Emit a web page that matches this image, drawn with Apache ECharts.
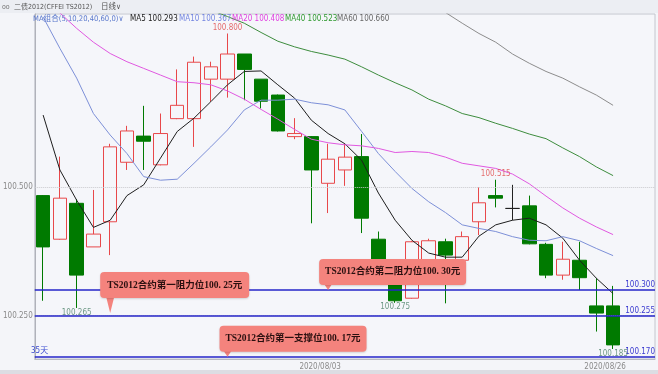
<!DOCTYPE html>
<html><head><meta charset="utf-8">
<style>html,body{margin:0;padding:0;background:#f4f5f9;}#c{width:658px;height:374px;}</style>
<script src="https://cdn.jsdelivr.net/npm/echarts@6.0.0/dist/echarts.min.js"></script>
</head><body><div id="c"></div>
<script>
const dates = ['2020/07/09','2020/07/10','2020/07/13','2020/07/14','2020/07/15','2020/07/16','2020/07/17','2020/07/20','2020/07/21','2020/07/22','2020/07/23','2020/07/24','2020/07/27','2020/07/28','2020/07/29','2020/07/30','2020/07/31','2020/08/03','2020/08/04','2020/08/05','2020/08/06','2020/08/07','2020/08/10','2020/08/11','2020/08/12','2020/08/13','2020/08/14','2020/08/17','2020/08/18','2020/08/19','2020/08/20','2020/08/21','2020/08/24','2020/08/25','2020/08/26'];
const shownDates = ['2020/08/03','2020/08/26'];
// [open, close, low, high]
const candles = [
[100.484,100.384,100.279,100.485],[100.399,100.479,100.398,100.560],[100.469,100.329,100.265,100.477],[100.384,100.409,100.384,100.495],
[100.433,100.579,100.368,100.585],[100.549,100.610,100.534,100.620],[100.600,100.590,100.534,100.659],[100.544,100.605,100.543,100.644],
[100.634,100.660,100.633,100.730],[100.634,100.744,100.579,100.755],[100.711,100.735,100.667,100.745],[100.711,100.760,100.675,100.800],
[100.760,100.730,100.670,100.760],[100.711,100.668,100.654,100.711],[100.680,100.610,100.609,100.681],[100.599,100.605,100.594,100.635],
[100.599,100.534,100.430,100.600],[100.508,100.555,100.450,100.585],[100.534,100.559,100.503,100.585],[100.560,100.440,100.411,100.604],
[100.399,100.335,100.330,100.414],[100.330,100.279,100.275,100.335],[100.284,100.394,100.283,100.396],[100.330,100.396,100.330,100.400],
[100.394,100.368,100.274,100.400],[100.358,100.404,100.357,100.414],[100.433,100.470,100.407,100.500],[100.484,100.479,100.461,100.515],
[100.459,100.459,100.436,100.505],[100.464,100.390,100.389,100.484],[100.389,100.329,100.323,100.392],[100.329,100.360,100.320,100.394],
[100.358,100.324,100.300,100.394],[100.269,100.255,100.219,100.323],[100.269,100.193,100.185,100.308]];
const ma5 = [100.641,100.534,100.475,100.422,100.436,100.484,100.505,100.557,100.609,100.635,100.667,100.700,100.726,100.727,100.700,100.674,100.631,100.605,100.585,100.553,100.489,100.436,100.397,100.372,100.364,100.364,100.405,100.427,100.436,100.440,100.427,100.401,100.358,100.323,100.293];
const ma10 = [100.832,100.771,100.713,100.644,100.602,100.566,100.521,100.514,100.516,100.547,100.579,100.612,100.651,100.670,100.670,100.672,100.665,100.661,100.651,100.609,100.566,100.531,100.498,100.472,100.451,100.427,100.420,100.414,100.404,100.397,100.396,100.404,100.396,100.381,100.367];
const ma20 = [100.869,100.840,100.810,100.783,100.761,100.745,100.732,100.719,100.706,100.704,100.700,100.688,100.672,100.652,100.633,100.613,100.594,100.587,100.583,100.581,100.576,100.568,100.570,100.568,100.559,100.547,100.542,100.537,100.526,100.507,100.483,100.460,100.440,100.423,100.408];
const ma40 = [null,null,null,null,null,null,null,null,null,null,100.846,100.833,100.820,100.802,100.785,100.774,100.765,100.758,100.750,100.735,100.719,100.704,100.690,100.672,100.659,100.644,100.636,100.625,100.615,100.604,100.595,100.577,100.560,100.540,100.523];
const ma60 = [null,null,null,null,null,null,null,null,null,null,null,null,null,null,null,null,null,null,null,null,null,null,null,100.862,100.841,100.820,100.800,100.783,100.760,100.742,100.726,100.713,100.696,100.680,100.660];
const levels = [100.300, 100.255, 100.170];
const yTicks = [100.250, 100.500];
const highLabels = [[11,100.800],[27,100.515]];
const lowLabels = [[2,100.265],[21,100.275],[34,100.185]];
const notes = [
  {text:'TS2012合约第一阻力位100. 25元', idx:4, value:100.255},
  {text:'TS2012合约第二阻力位100. 30元', idx:17, value:100.300},
  {text:'TS2012合约第一支撑位100. 17元', idx:11, value:100.170}
];

const chart = echarts.init(document.getElementById('c'), null, {renderer:'canvas'});
const FONT = '"DejaVu Sans Condensed","Liberation Sans","Noto Sans CJK SC",sans-serif';
const cats = dates.concat(['','']);
const upColor = '#e8484a', downColor = '#007a00';
const lineS = (name, data, color) => ({name, type:'line', data, symbol:'none', smooth:false, z:3,
  lineStyle:{color, width:1}, itemStyle:{color}, connectNulls:false, silent:true});

const legendItems = [
  {t:'MA组合(5,10,20,40,60,0)∨', x:33, c:'#5a78cc'},
  {t:'MA5 100.293', x:130, c:'#222'},
  {t:'MA10 100.367', x:179, c:'#7385e0'},
  {t:'MA20 100.408', x:232, c:'#e040e0'},
  {t:'MA40 100.523', x:285, c:'#2f9a2f'},
  {t:'MA60 100.660', x:337, c:'#666'}
];
const graphics = [
  {type:'rect', shape:{x:0,y:0,width:658,height:13}, style:{fill:'#eceef3'}, z:0, silent:true},
  {type:'rect', shape:{x:0,y:370,width:658,height:4}, style:{fill:'#dcdde3'}, z:0, silent:true},
  {type:'text', x:2, y:7, style:{text:'oo', fill:'#777', font:'7px '+FONT, verticalAlign:'middle'}},
  {type:'text', x:14, y:7, style:{text:'二债2012(CFFEI TS2012)', fill:'#555', font:'7px '+FONT, verticalAlign:'middle'}},
  {type:'text', x:101, y:7, style:{text:'日线∨', fill:'#555', font:'7.5px '+FONT, verticalAlign:'middle'}},
  {type:'text', x:31, y:351, style:{text:'35天', fill:'#3a4ad0', font:'8px '+FONT, verticalAlign:'middle'}, z:10}
].concat(legendItems.map(l => ({type:'text', x:l.x, y:19, z:10, style:{text:l.t, fill:l.c, font:(l.x===33?'7.6px ':'8px ')+FONT, verticalAlign:'middle'}})));

chart.setOption({
  animation:false,
  backgroundColor:'#f4f5f9',
  grid:{left:30, right:3, top:14, bottom:15, show:true, borderColor:'#c4c6ce', borderWidth:1, backgroundColor:'#f5f6fa'},
  xAxis:{type:'category', data:cats, boundaryGap:true,
    axisLine:{lineStyle:{color:'#b8bac2'}}, axisTick:{show:false}, splitLine:{show:false},
    axisLabel:{interval:(i,v)=>shownDates.indexOf(v)>=0, color:'#8a8a8a', fontSize:8, fontFamily:FONT, margin:4, padding:[0,16,0,0]}},
  yAxis:{type:'value', min:100.1655, max:100.838, position:'left', scale:true,
    axisLine:{show:true, lineStyle:{color:'#b0b2ba'}}, axisTick:{show:false}, splitLine:{show:false},
    axisLabel:{customValues:yTicks, formatter:v=>v.toFixed(3), color:'#8a8a8a', fontSize:8, fontFamily:FONT, margin:2}},
  graphic:graphics,
  series:[
    {type:'candlestick', data:candles, barWidth:14, z:2,
      itemStyle:{color:'#f5f6fa', color0:downColor, borderColor:upColor, borderColor0:downColor, borderColorDoji:'#222', borderWidth:1},
      markLine:{silent:true, symbol:['none','none'], animation:false,
        data:[
          {yAxis:yTicks[1], lineStyle:{color:'#c8c8cc', type:'dotted', width:1}, label:{show:false}},
          {yAxis:yTicks[0], lineStyle:{color:'#c8c8cc', type:'dotted', width:1}, label:{show:false}}
        ].concat(levels.map(v=>({yAxis:v, lineStyle:{color:'#2424c8', type:'solid', width:1.5},
          label:{show:true, position:'insideEndTop', formatter:v.toFixed(3), color:'#3a3ad0', fontSize:8, fontFamily:FONT, distance:[0,1]}})))
      }},
    lineS('MA5', ma5, '#1e1e1e'),
    lineS('MA10', ma10, '#7d90d8'),
    lineS('MA20', ma20, '#e058e0'),
    lineS('MA40', ma40, '#3d8c3d'),
    lineS('MA60', ma60, '#8c8c8c'),
    {type:'scatter', data:highLabels, symbolSize:1, itemStyle:{color:'rgba(0,0,0,0)'}, z:5, silent:true,
      label:{show:true, position:'top', distance:1, formatter:p=>p.value[1].toFixed(3), color:'#e04848', fontSize:8, fontFamily:FONT}},
    {type:'scatter', data:lowLabels, symbolSize:1, itemStyle:{color:'rgba(0,0,0,0)'}, z:5, silent:true,
      label:{show:true, position:'bottom', distance:0, formatter:p=>p.value[1].toFixed(3), color:'#4a7f66', fontSize:8, fontFamily:FONT}}
  ]
});

// annotation callouts anchored to data
const noteGeo = [{dx:-10, h:26, gap:15, w:149},{dx:-9, h:26, gap:5, w:147},{dx:-8, h:26, gap:5, w:147}];
const noteGraphics = [];
notes.forEach((n,k) => {
  const p = chart.convertToPixel({xAxisIndex:0, yAxisIndex:0}, [n.idx, n.value]);
  const g = noteGeo[k];
  const left = p[0] + g.dx, bottom = p[1] - g.gap, top = bottom - g.h;
  noteGraphics.push(
    {type:'polygon', z:100, shape:{points:[[p[0]-4,bottom-1],[p[0]+4,bottom-1],[p[0],p[1]]]}, style:{fill:'#f4837d'}},
    {type:'rect', z:100, shape:{x:left, y:top, width:g.w, height:g.h, r:4}, style:{fill:'#f4837d', shadowColor:'rgba(0,0,0,0.15)', shadowBlur:2, shadowOffsetY:1}},
    {type:'text', z:101, x:left + g.w/2, y:top + g.h/2, style:{text:n.text, fill:'#2a1010', font:'bold 9.5px "Liberation Serif","Noto Sans CJK SC",serif', align:'center', verticalAlign:'middle'}}
  );
});
chart.setOption({graphic:graphics.concat(noteGraphics)});
</script></body></html>
